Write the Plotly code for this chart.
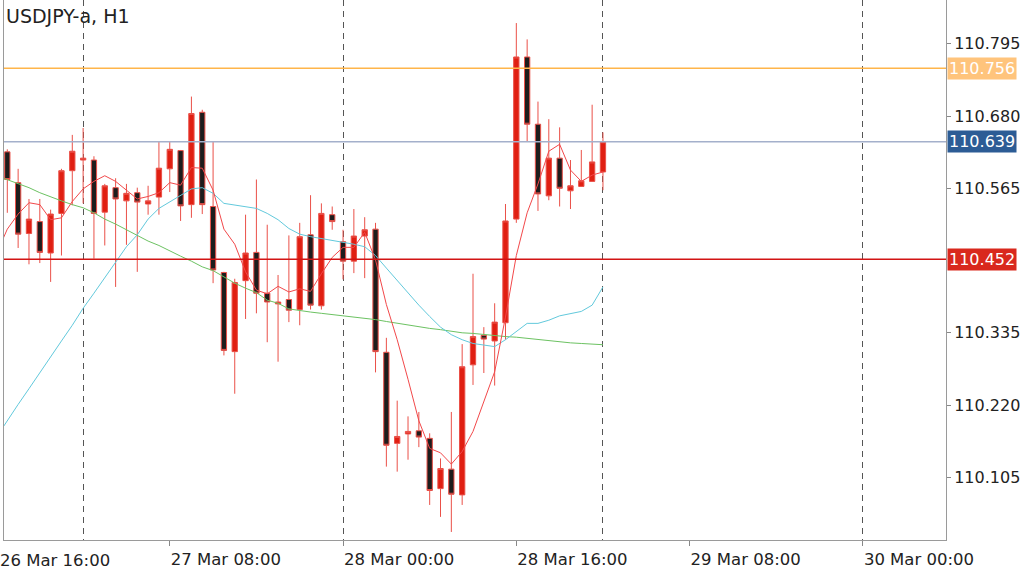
import plotly.graph_objects as go
import pandas as pd

chart_title = "USDJPY-a, H1"

# hourly candles, 26 Mar 17:00 .. 29 Mar 00:00 (2019)
candle_times = pd.date_range("2019-03-26 17:00", periods=56, freq="h")
ma_times = pd.date_range("2019-03-26 16:00", periods=57, freq="h")

opens = [110.623, 110.574, 110.493, 110.512, 110.462, 110.525, 110.593, 110.610,
         110.610, 110.527, 110.566, 110.545, 110.558, 110.540, 110.551, 110.596,
         110.625, 110.539, 110.686, 110.536, 110.431, 110.305, 110.418, 110.463,
         110.398, 110.381, 110.388, 110.372, 110.491, 110.378, 110.523, 110.480,
         110.449, 110.489, 110.500, 110.304, 110.159, 110.174, 110.179, 110.167,
         110.087, 110.118, 110.077, 110.284, 110.331, 110.322, 110.351, 110.516,
         110.774, 110.667, 110.553, 110.613, 110.561, 110.568, 110.576, 110.591]
highs = [110.627, 110.596, 110.548, 110.548, 110.531, 110.596, 110.650, 110.661,
         110.616, 110.572, 110.581, 110.572, 110.566, 110.569, 110.639, 110.639,
         110.626, 110.711, 110.690, 110.639, 110.432, 110.421, 110.523, 110.579,
         110.507, 110.427, 110.490, 110.510, 110.554, 110.541, 110.536, 110.499,
         110.532, 110.519, 110.510, 110.327, 110.227, 110.202, 110.209, 110.175,
         110.135, 110.209, 110.317, 110.429, 110.344, 110.382, 110.540, 110.828,
         110.802, 110.703, 110.675, 110.662, 110.610, 110.626, 110.698, 110.654]
lows = [110.526, 110.470, 110.444, 110.446, 110.416, 110.458, 110.538, 110.541,
        110.453, 110.474, 110.408, 110.475, 110.432, 110.523, 110.523, 110.559,
        110.513, 110.518, 110.524, 110.414, 110.299, 110.238, 110.357, 110.366,
        110.320, 110.289, 110.352, 110.347, 110.372, 110.372, 110.499, 110.420,
        110.430, 110.422, 110.272, 110.122, 110.114, 110.133, 110.153, 110.061,
        110.042, 110.018, 110.061, 110.252, 110.271, 110.251, 110.324, 110.510,
        110.639, 110.529, 110.546, 110.536, 110.532, 110.568, 110.576, 110.562]
closes = [110.579, 110.492, 110.516, 110.463, 110.524, 110.593, 110.624, 110.613,
          110.525, 110.569, 110.548, 110.557, 110.543, 110.545, 110.597, 110.627,
          110.537, 110.684, 110.539, 110.435, 110.307, 110.415, 110.462, 110.398,
          110.384, 110.384, 110.371, 110.488, 110.379, 110.525, 110.512, 110.449,
          110.489, 110.499, 110.305, 110.156, 110.170, 110.178, 110.169, 110.084,
          110.119, 110.078, 110.281, 110.329, 110.325, 110.352, 110.513, 110.774,
          110.667, 110.556, 110.613, 110.565, 110.569, 110.577, 110.607, 110.639]

# moving-average lines (26 Mar 16:00 .. 29 Mar 00:00)
ma_fast = [110.461, 110.500, 110.524, 110.542, 110.539, 110.515, 110.518, 110.544,
           110.564, 110.576, 110.585, 110.576, 110.562, 110.548, 110.552, 110.558,
           110.574, 110.570, 110.598, 110.597, 110.562, 110.500, 110.476, 110.432,
           110.403, 110.397, 110.409, 110.400, 110.405, 110.401, 110.429, 110.455,
           110.471, 110.471, 110.495, 110.451, 110.380, 110.324, 110.261, 110.195,
           110.151, 110.144, 110.126, 110.146, 110.178, 110.227, 110.273, 110.360,
           110.458, 110.526, 110.572, 110.624, 110.635, 110.594, 110.576, 110.586,
           110.591]
ma_mid = [110.169, 110.196, 110.221, 110.246, 110.272, 110.297, 110.322, 110.347,
          110.374, 110.398, 110.422, 110.448, 110.472, 110.491, 110.516, 110.533,
          110.543, 110.553, 110.564, 110.566, 110.557, 110.541, 110.538, 110.536,
          110.533, 110.525, 110.515, 110.501, 110.492, 110.488, 110.485, 110.483,
          110.480, 110.476, 110.472, 110.458, 110.438, 110.418, 110.398, 110.379,
          110.361, 110.344, 110.332, 110.324, 110.318, 110.316, 110.313, 110.324,
          110.337, 110.350, 110.350, 110.355, 110.362, 110.366, 110.369, 110.379,
          110.408]
ma_slow = [110.585, 110.579, 110.573, 110.566, 110.558, 110.551, 110.545, 110.539,
           110.534, 110.526, 110.516, 110.508, 110.499, 110.489, 110.481, 110.474,
           110.465, 110.457, 110.449, 110.440, 110.434, 110.424, 110.414, 110.406,
           110.399, 110.387, 110.382, 110.373, 110.370, 110.368, 110.366, 110.364,
           110.363, 110.361, 110.359, 110.356, 110.353, 110.350, 110.347, 110.345,
           110.342, 110.340, 110.337, 110.335, 110.334, 110.332, 110.330, 110.329,
           110.328, 110.326, 110.324, 110.322, 110.320, 110.319, 110.318, 110.317,
           110.316]

# horizontal price levels
level_values = [110.756, 110.639, 110.452]
level_line_colors = ["#ffb54a", "#a4b0cb", "#d21414"]
level_box_colors = ["#ffc47c", "#2c5c95", "#d9281d"]

y_tick_values = [110.105, 110.220, 110.335, 110.565, 110.680, 110.795]
y_tick_labels = ["110.105", "110.220", "110.335", "110.565", "110.680", "110.795"]

x_tick_values = ["2019-03-27 08:00", "2019-03-28 00:00", "2019-03-28 16:00",
                 "2019-03-29 08:00", "2019-03-30 00:00"]
x_tick_labels = ["27 Mar 08:00", "28 Mar 00:00", "28 Mar 16:00",
                 "29 Mar 08:00", "30 Mar 00:00"]
first_label = "26 Mar 16:00"
day_separators = ["2019-03-27 00:00", "2019-03-28 00:00",
                  "2019-03-29 00:00", "2019-03-30 00:00"]

x_range = ["2019-03-26 16:41:40", "2019-03-30 07:40:30"]
y_range = [110.0052, 110.8647]

XFONT = dict(family="DejaVu Sans", size=16.5, color="#222222")
YFONT = dict(family="DejaVu Sans", size=16, color="#222222")

fig = go.Figure()

fig.add_trace(go.Candlestick(
    x=candle_times, open=opens, high=highs, low=lows, close=closes,
    increasing=dict(fillcolor="#e01f12", line=dict(color="#ea5048", width=1)),
    decreasing=dict(fillcolor="#1d1d1d", line=dict(color="#ea5048", width=1)),
    whiskerwidth=0, hoverinfo="skip", showlegend=False,
))

fig.add_trace(go.Scatter(x=ma_times, y=ma_slow, mode="lines",
                         line=dict(color="#6cc262", width=1), hoverinfo="skip",
                         showlegend=False))
fig.add_trace(go.Scatter(x=ma_times, y=ma_mid, mode="lines",
                         line=dict(color="#62c9dc", width=1), hoverinfo="skip",
                         showlegend=False))
fig.add_trace(go.Scatter(x=ma_times, y=ma_fast, mode="lines",
                         line=dict(color="#f2484a", width=1), hoverinfo="skip",
                         showlegend=False))

for val, lc, bc in zip(level_values, level_line_colors, level_box_colors):
    fig.add_shape(type="line", xref="paper", x0=0, x1=1, yref="y", y0=val, y1=val,
                  line=dict(color=lc, width=1.5), layer="above")
    fig.add_annotation(xref="paper", x=1, xanchor="left", xshift=1,
                       yref="y", y=val, yanchor="middle",
                       text=f"{val:.3f}", showarrow=False,
                       font=dict(family="DejaVu Sans", size=16, color="white"),
                       bgcolor=bc, borderpad=1)

fig.add_annotation(xref="paper", x=0, xanchor="left", xshift=-6,
                   yref="paper", y=0, yanchor="top", yshift=-9,
                   text=first_label, showarrow=False, font=XFONT)

fig.add_annotation(xref="paper", x=0, xanchor="left", xshift=0,
                   yref="paper", y=1, yanchor="top", yshift=-3,
                   text=chart_title, showarrow=False,
                   font=dict(family="DejaVu Sans", size=19, color="#222222"))

fig.update_layout(
    width=1024, height=577,
    margin=dict(l=4, r=78, t=0, b=37),
    paper_bgcolor="white", plot_bgcolor="white",
    hovermode=False, showlegend=False,
    xaxis=dict(
        type="date", range=x_range, rangeslider=dict(visible=False),
        tickvals=x_tick_values, ticktext=x_tick_labels,
        ticklabelposition="outside right", ticklabelstandoff=4,
        ticks="outside", ticklen=5, tickcolor="#888888",
        showgrid=False, zeroline=False,
        showline=True, linecolor="#9a9a9a", linewidth=1,
        tickfont=XFONT,
        minor=dict(tickvals=day_separators, showgrid=True, gridcolor="#555555",
                   griddash="6px,5px", gridwidth=1, ticks=""),
        fixedrange=True,
    ),
    yaxis=dict(
        side="right", range=y_range,
        tickvals=y_tick_values, ticktext=y_tick_labels,
        ticks="outside", ticklen=4, tickcolor="#888888",
        showgrid=False, zeroline=False,
        showline=True, linecolor="#9a9a9a", linewidth=1, mirror=True,
        tickfont=YFONT,
        fixedrange=True,
    ),
)

fig.write_html(
    "out.html",
    config={"displayModeBar": False},
    post_script="document.body.style.margin='0';document.body.style.overflow='hidden';",
)
